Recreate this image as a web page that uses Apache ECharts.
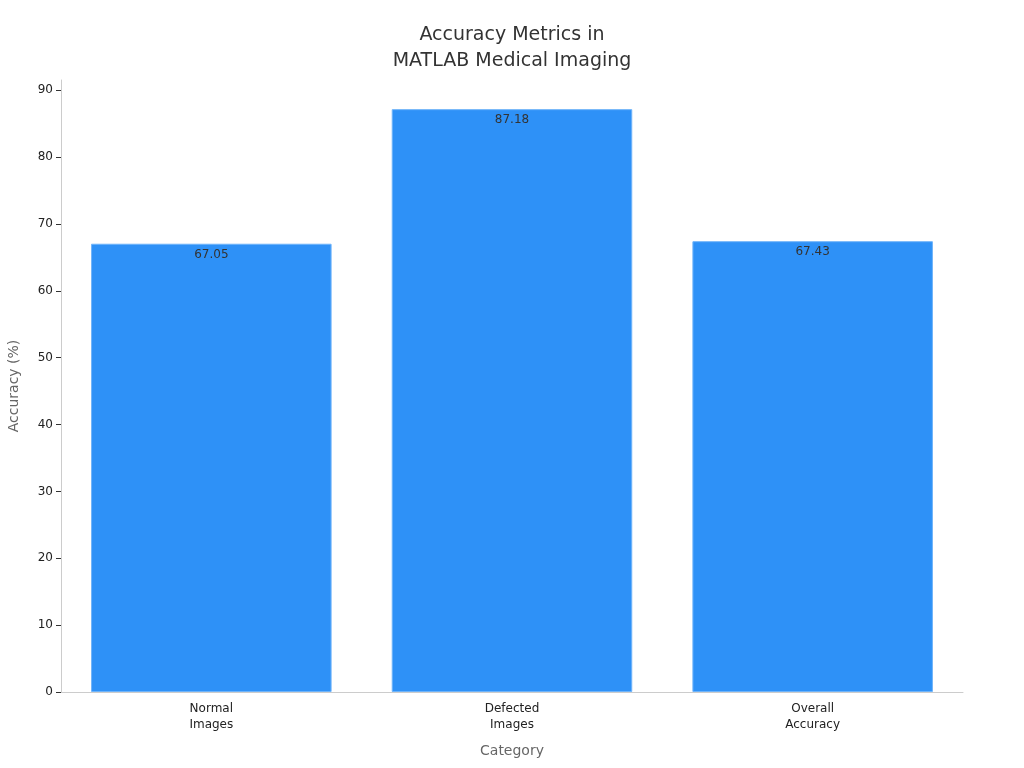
<!DOCTYPE html>
<html><head><meta charset="utf-8">
<script src="https://cdn.jsdelivr.net/npm/echarts@6/dist/echarts.min.js"></script>
<style>html,body{margin:0;padding:0;background:#fff}#c{width:1024px;height:768px}</style>
</head><body><div id="c"></div>
<script>
const categories = ['Normal\nImages', 'Defected\nImages', 'Overall\nAccuracy'];
const accuracy = [67.05, 87.18, 67.43];
const yTicks = [0, 10, 20, 30, 40, 50, 60, 70, 80, 90];

const chart = echarts.init(document.getElementById('c'));
chart.setOption({
  animation: false,
  textStyle: { fontFamily: 'DejaVu Sans' },
  title: {
    text: 'Accuracy Metrics in\nMATLAB Medical Imaging',
    left: 'center', top: 17,
    textStyle: { fontSize: 19, fontWeight: 'normal', color: '#333', lineHeight: 26, fontFamily: 'DejaVu Sans' }
  },
  grid: { left: 61, right: 61, top: 80, bottom: 76, containLabel: false, outerBoundsMode: 'none' },
  xAxis: {
    type: 'category', data: categories,
    name: 'Category', nameLocation: 'middle', nameGap: 52,
    nameTextStyle: { fontSize: 14, color: '#666' },
    axisLine: { lineStyle: { color: '#ccc' } },
    axisTick: { alignWithLabel: true, length: 5, lineStyle: { color: '#333' } },
    axisLabel: { fontSize: 12, color: '#222', lineHeight: 16, margin: 9 }
  },
  yAxis: {
    type: 'value', min: 0, max: 91.54, interval: 10,
    name: 'Accuracy (%)', nameLocation: 'middle', nameGap: 40,
    nameTextStyle: { fontSize: 14, color: '#666' },
    splitLine: { show: false },
    axisLine: { show: true, lineStyle: { color: '#ccc' } },
    axisTick: { show: true, length: 5, lineStyle: { color: '#333' }, customValues: yTicks },
    axisLabel: { fontSize: 12, color: '#222', margin: 8, customValues: yTicks }
  },
  series: [{
    type: 'bar', data: accuracy, barCategoryGap: '20%',
    itemStyle: { color: '#2E91F7', borderColor: '#6FB4FA', borderWidth: 1 },
    label: { show: true, position: 'insideTop', distance: 5, fontSize: 12, color: '#333',
      formatter: p => p.value.toFixed(2) }
  }]
});
</script></body></html>
